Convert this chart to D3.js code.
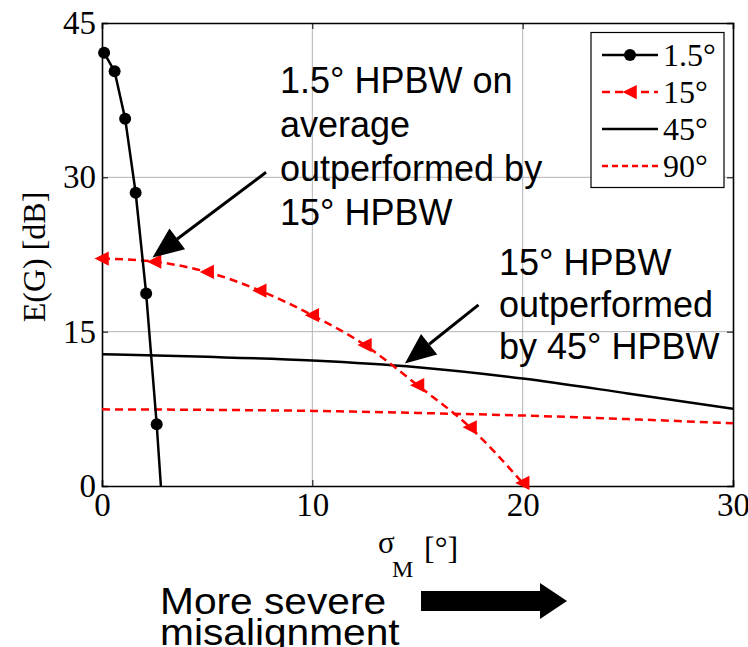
<!DOCTYPE html>
<html>
<head>
<meta charset="utf-8">
<script src="https://cdn.jsdelivr.net/npm/d3@7"></script>
<style>
  body { margin: 0; background: #fff; }
  svg { display: block; }
</style>
</head>
<body>
<svg id="chart" width="748" height="647"></svg>
<script>
// Expected gain E(G) versus misalignment spread sigma_M for several HPBWs
const xTicks = [0, 10, 20, 30];
const yTicks = [0, 15, 30, 45];

const legendLabels = ["1.5°", "15°", "45°", "90°"];

// 1.5° HPBW (markers on all but the last point, where the curve leaves the axes)
const sigma1p5 = [0.1, 0.6, 1.1, 1.6, 2.1, 2.6, 2.8];
const gain1p5  = [42.1, 40.3, 35.7, 28.5, 18.7, 6.0, 0.0];

// 15° HPBW
const sigma15 = [0, 2.5, 5, 7.5, 10, 12.5, 15, 17.5, 20];
const gain15  = [22.1, 21.8, 20.8, 19.0, 16.6, 13.7, 9.8, 5.7, 0.3];

// 45° HPBW
const sigma45 = [0, 5, 10, 15, 20, 25, 30];
const gain45  = [12.8, 12.55, 12.2, 11.55, 10.45, 9.0, 7.5];

// 90° HPBW
const sigma90 = [0, 5, 10, 15, 20, 25, 30];
const gain90  = [7.45, 7.4, 7.3, 7.1, 6.85, 6.5, 6.1];

// Annotation arrows: [tailSigma, tailGain, tipSigma, tipGain]
const arrow1 = [7.8, 30.5, 2.4, 22.2];
const arrow2 = [17.9, 17.6, 14.4, 11.9];

const note1 = ["1.5° HPBW on", "average", "outperformed by", "15° HPBW"];
const note2 = ["15° HPBW", "outperformed", "by 45° HPBW"];
const note3 = ["More severe", "misalignment"];

const svg = d3.select("#chart");
const margin = { left: 102, right: 15, top: 23, bottom: 161 };
const W = 748, H = 647;
const plotW = W - margin.left - margin.right;
const plotH = H - margin.top - margin.bottom;

const x = d3.scaleLinear().domain([0, 30]).range([margin.left, margin.left + plotW]);
const y = d3.scaleLinear().domain([0, 45]).range([margin.top + plotH, margin.top]);

const serif = "'Liberation Serif', 'Times New Roman', serif";
const sans = "'Liberation Sans', Arial, sans-serif";
const red = "#ff0000";

// grid
const grid = svg.append("g").attr("stroke", "#b4b4b4").attr("stroke-width", 1);
grid.selectAll("line.gx").data(xTicks.slice(1, -1)).join("line")
  .attr("x1", d => x(d)).attr("x2", d => x(d))
  .attr("y1", y(0)).attr("y2", y(45));
grid.selectAll("line.gy").data(yTicks.slice(1, -1)).join("line")
  .attr("y1", d => y(d)).attr("y2", d => y(d))
  .attr("x1", x(0)).attr("x2", x(30));

// axes with inward ticks
const axisB = svg.append("g").attr("transform", `translate(0,${y(0)})`)
  .call(d3.axisBottom(x).tickValues(xTicks).tickFormat(d3.format("d")).tickSize(-6).tickPadding(7));
const axisL = svg.append("g").attr("transform", `translate(${x(0)},0)`)
  .call(d3.axisLeft(y).tickValues(yTicks).tickFormat(d3.format("d")).tickSize(-6).tickPadding(6));
const axisT = svg.append("g").attr("transform", `translate(0,${y(45)})`)
  .call(d3.axisTop(x).tickValues(xTicks).tickFormat("").tickSize(-6));
const axisR = svg.append("g").attr("transform", `translate(${x(30)},0)`)
  .call(d3.axisRight(y).tickValues(yTicks).tickFormat("").tickSize(-6));
[axisB, axisL, axisT, axisR].forEach(a => {
  a.select(".domain").attr("stroke", "#000").attr("stroke-width", 1.6);
  a.selectAll(".tick line").attr("stroke", "#000").attr("stroke-width", 1);
  a.selectAll("text").attr("font-family", serif).attr("font-size", 33).attr("fill", "#000");
});

// clip for data
svg.append("clipPath").attr("id", "plotclip").append("rect")
  .attr("x", x(0)).attr("y", y(45) - 10).attr("width", plotW).attr("height", plotH + 20);

const pts = (xs, ys) => xs.map((v, i) => [v, ys[i]]);

const lineLin = d3.line().x(d => x(d[0])).y(d => y(d[1]));
const lineSmooth = d3.line().x(d => x(d[0])).y(d => y(d[1])).curve(d3.curveMonotoneX);

const layer = svg.append("g").attr("clip-path", "url(#plotclip)");

// 90°
layer.append("path").datum(pts(sigma90, gain90)).attr("d", lineSmooth)
  .attr("fill", "none").attr("stroke", red).attr("stroke-width", 2.5).attr("stroke-dasharray", "8,5");
// 45°
layer.append("path").datum(pts(sigma45, gain45)).attr("d", lineSmooth)
  .attr("fill", "none").attr("stroke", "#000").attr("stroke-width", 2.5);
// 15°
layer.append("path").datum(pts(sigma15, gain15)).attr("d", lineSmooth)
  .attr("fill", "none").attr("stroke", red).attr("stroke-width", 2.5).attr("stroke-dasharray", "8,5");
// 1.5°
layer.append("path").datum(pts(sigma1p5, gain1p5)).attr("d", lineLin)
  .attr("fill", "none").attr("stroke", "#000").attr("stroke-width", 2.5);

const triPath = s => `M${-s},0L${s * 0.9},${-s * 0.95}L${s * 0.9},${s * 0.95}Z`;

svg.append("g").selectAll("path").data(pts(sigma15, gain15)).join("path")
  .attr("transform", d => `translate(${x(d[0])},${y(d[1])})`)
  .attr("d", triPath(7.5)).attr("fill", red);

svg.append("g").selectAll("circle").data(pts(sigma1p5, gain1p5).slice(0, -1)).join("circle")
  .attr("cx", d => x(d[0])).attr("cy", d => y(d[1])).attr("r", 6).attr("fill", "#000");

// legend
const lg = svg.append("g");
lg.append("rect").attr("x", 591).attr("y", 32.5).attr("width", 133).attr("height", 155)
  .attr("fill", "#fff").attr("stroke", "#000").attr("stroke-width", 1.2);
const rowY = i => 55 + i * 37;
const styles = [
  { color: "#000", dash: null, marker: "circle" },
  { color: red, dash: "8,5", marker: "tri" },
  { color: "#000", dash: null, marker: null },
  { color: red, dash: "6,4", marker: null }
];
legendLabels.forEach((lab, i) => {
  const s = styles[i];
  lg.append("line").attr("x1", 602).attr("x2", 658).attr("y1", rowY(i)).attr("y2", rowY(i))
    .attr("stroke", s.color).attr("stroke-width", 2.5).attr("stroke-dasharray", s.dash);
  if (s.marker === "circle") lg.append("circle").attr("cx", 630).attr("cy", rowY(i)).attr("r", 6).attr("fill", s.color);
  if (s.marker === "tri") lg.append("path").attr("transform", `translate(630,${rowY(i)})`).attr("d", triPath(7.5)).attr("fill", s.color);
  lg.append("text").attr("x", 663).attr("y", rowY(i) + 11).text(lab)
    .attr("font-family", serif).attr("font-size", 32).attr("fill", "#000");
});

// axis titles
svg.append("text").attr("transform", "translate(45,257) rotate(-90)")
  .attr("text-anchor", "middle").attr("font-family", serif).attr("font-size", 32).text("E(G) [dB]");
const xt = svg.append("g").attr("font-family", serif).attr("fill", "#000");
xt.append("text").attr("x", 378).attr("y", 553).attr("font-size", 31).text("σ");
xt.append("text").attr("x", 392).attr("y", 577).attr("font-size", 24).text("M");
xt.append("text").attr("x", 424).attr("y", 559).attr("font-size", 32).text("[°]");

// annotations
function drawArrow(a) {
  const x1 = x(a[0]), y1 = y(a[1]), x2 = x(a[2]), y2 = y(a[3]);
  const ang = Math.atan2(y2 - y1, x2 - x1);
  const L = 31, Wd = 13;
  const bx = x2 - L * Math.cos(ang), by = y2 - L * Math.sin(ang);
  svg.append("line").attr("x1", x1).attr("y1", y1).attr("x2", bx).attr("y2", by)
    .attr("stroke", "#000").attr("stroke-width", 3);
  const px = -Math.sin(ang) * Wd, py = Math.cos(ang) * Wd;
  svg.append("path").attr("d", `M${x2},${y2}L${bx + px},${by + py}L${bx - px},${by - py}Z`).attr("fill", "#000");
}
drawArrow(arrow1);
drawArrow(arrow2);

const n1 = svg.append("g").attr("font-family", sans).attr("font-size", 36).attr("fill", "#000");
note1.forEach((t, i) => n1.append("text").attr("x", 280).attr("y", 93 + i * 44).text(t));
const n2 = svg.append("g").attr("font-family", sans).attr("font-size", 36).attr("fill", "#000");
note2.forEach((t, i) => n2.append("text").attr("x", 499).attr("y", 275 + i * 42).text(t));
// caption below the axis, set slightly wide
const n3 = svg.append("g").attr("transform", "translate(160,0) scale(1.1,1)")
  .attr("font-family", sans).attr("font-size", 37).attr("fill", "#000");
note3.forEach((t, i) => n3.append("text").attr("x", 0).attr("y", 614 + i * 31).text(t));

// direction arrow under the x axis
svg.append("path").attr("d", "M421,591L540,591L540,583L567,601L540,619L540,611L421,611Z").attr("fill", "#000");
</script>
</body>
</html>
